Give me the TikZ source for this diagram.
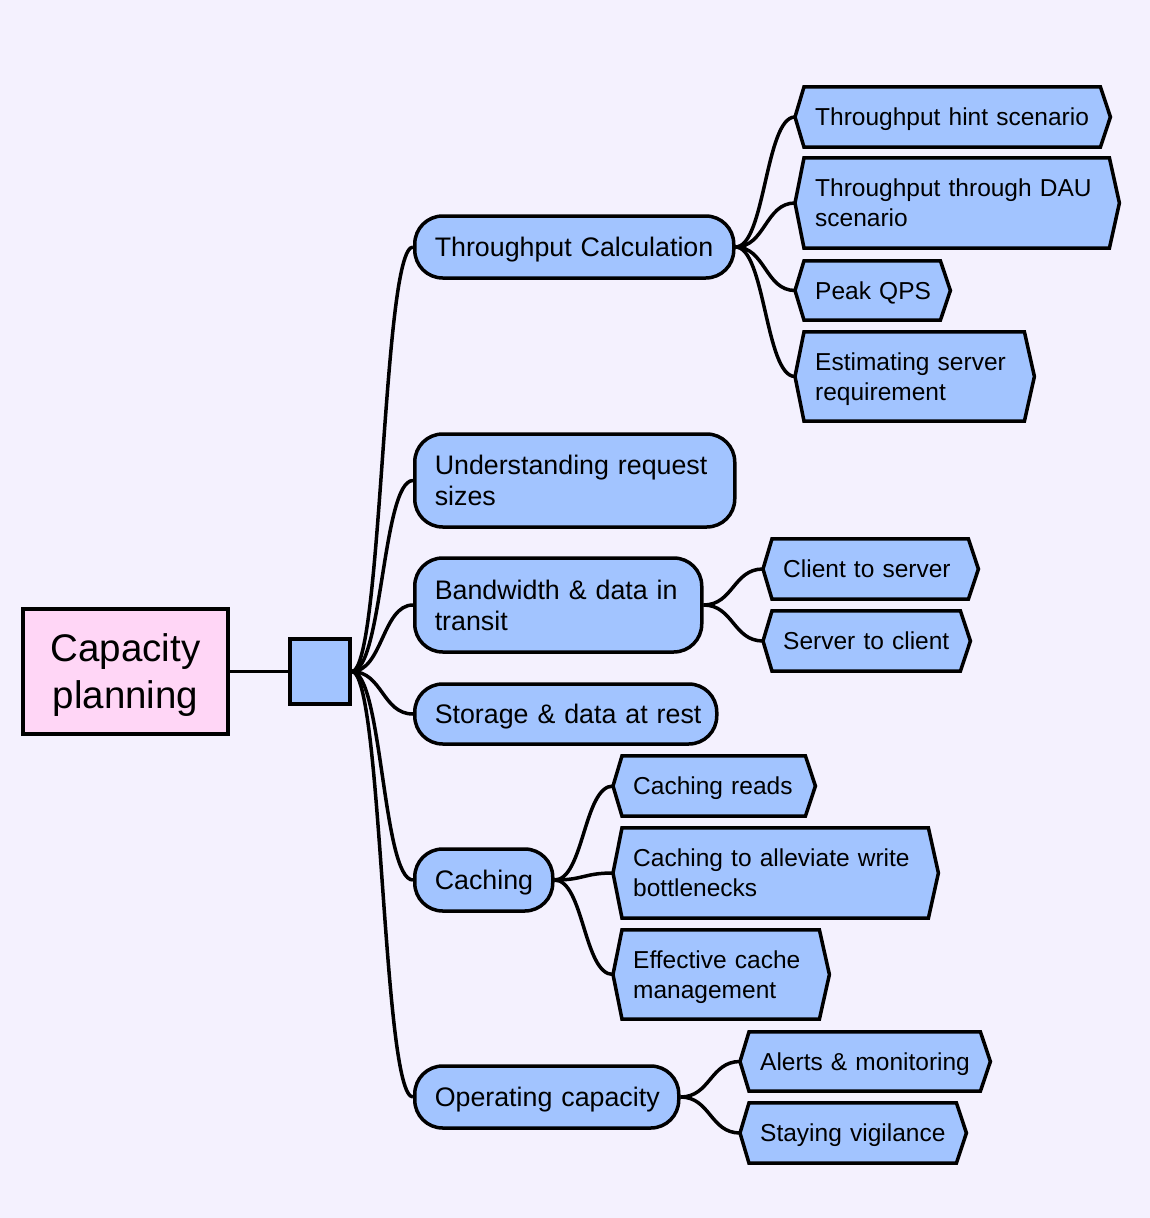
\documentclass[tikz,border=0pt]{standalone}
\usepackage{fontspec}
\setmainfont{Liberation Sans}
\usetikzlibrary{calc}
\hyphenpenalty=10000
\exhyphenpenalty=10000
\pgfdeclarelayer{bg}
\pgfdeclarelayer{edges}
\pgfdeclarelayer{shapes}
\pgfsetlayers{bg,edges,shapes,main}
\definecolor{bgc}{HTML}{F4F1FE}
\definecolor{nodeblue}{HTML}{A2C4FF}
\definecolor{rootpink}{HTML}{FFD6F6}
\tikzset{
  vfix/.style={execute at begin node={\rule{0pt}{0.97em}}, execute at end node={\rule[-0.25em]{0pt}{0.25em}}},
  lone/.style={draw, line width=3.5pt, fill=nodeblue, rounded corners=28pt, anchor=west,
    inner xsep=20pt, inner ysep=0pt, align=left, font=\fontsize{26.8}{31}\selectfont, vfix},
  ltwo/.style={anchor=west, inner xsep=20pt, inner ysep=0pt, align=left,
    font=\fontsize{24.5}{30}\selectfont, vfix},
  hexshape/.style={draw, line width=3.5pt, fill=nodeblue, line join=miter},
  edge/.style={line width=3.5pt},
}
\newcommand\hexof[1]{\draw[hexshape] (#1.west) -- ([xshift=9pt]#1.north west) -- ([xshift=-10pt]#1.north east) -- (#1.east) -- ([xshift=-10pt]#1.south east) -- ([xshift=9pt]#1.south west) -- cycle;}
\newcommand\mmlink[2]{\draw[edge] let \p1=(#1.east), \p2=(#2.west) in (\p1) .. controls ({0.5*\x1+0.5*\x2},\y1) and ({0.5*\x1+0.5*\x2},\y2) .. (\p2);}
\begin{document}
\begin{tikzpicture}[x=1pt,y=-1pt]
\begin{pgfonlayer}{bg}
\fill[bgc] (0,0) rectangle (1150,1218);
\end{pgfonlayer}
\useasboundingbox (0,0) rectangle (1150,1218);

% root and hub
\node[draw, line width=3.5pt, fill=rootpink, text width=165pt, minimum height=125pt,
  inner xsep=20pt, inner ysep=0pt, align=center, font=\fontsize{38.5}{47}\selectfont, vfix] (root) at (125.5,671.5) {Capacity\\planning};
\node[draw, line width=3.5pt, fill=nodeblue, minimum width=60pt, minimum height=65pt, inner sep=0pt] (hub) at (320,671.5) {};

% level 1
\node[lone, text width=279pt, minimum height=62pt] (tc) at (413,247) {Throughput~Calculation};
\node[lone, text width=280pt, minimum height=93pt] (ur) at (413,480.5) {Understanding~request\\sizes};
\node[lone, text width=247pt, minimum height=94pt] (bw) at (413,605) {Bandwidth~\&~data~in\\transit};
\node[lone, text width=262pt, minimum height=60pt] (st) at (413,714) {Storage~\&~data~at~rest};
\node[lone, text width=98pt, minimum height=62pt] (ca) at (413,880) {Caching};
\node[lone, text width=224pt, minimum height=62pt] (oc) at (413,1097) {Operating~capacity};

% level 2
\node[ltwo, text width=275pt, minimum height=60pt] (ths) at (795,117) {Throughput~hint~scenario};
\node[ltwo, text width=284pt, minimum height=90pt] (tdau) at (795,203) {Throughput~through~DAU\\scenario};
\node[ltwo, text width=115pt, minimum height=59pt] (pq) at (795,290.5) {Peak~QPS};
\node[ltwo, text width=199pt, minimum height=89pt] (esr) at (795,376.5) {Estimating~server\\requirement};
\node[ltwo, text width=175pt, minimum height=60pt] (cs) at (763,569) {Client~to~server};
\node[ltwo, text width=167pt, minimum height=60pt] (sc) at (763,641) {Server~to~client};
\node[ltwo, text width=162pt, minimum height=60pt] (cr) at (613,786) {Caching~reads};
\node[ltwo, text width=285pt, minimum height=90pt] (cw) at (613,873) {Caching~to~alleviate~write\\bottlenecks};
\node[ltwo, text width=176pt, minimum height=89pt] (ecm) at (613,974.5) {Effective~cache\\management};
\node[ltwo, text width=210pt, minimum height=59pt] (am) at (740,1061.5) {Alerts~\&~monitoring};
\node[ltwo, text width=186pt, minimum height=60pt] (sv) at (740,1133) {Staying~vigilance};

\begin{pgfonlayer}{shapes}
\hexof{ths}\hexof{tdau}\hexof{pq}\hexof{esr}\hexof{cs}\hexof{sc}
\hexof{cr}\hexof{cw}\hexof{ecm}\hexof{am}\hexof{sv}
\end{pgfonlayer}

\begin{pgfonlayer}{edges}
\draw[edge] (root.east) -- (hub.west);
\mmlink{hub}{tc}\mmlink{hub}{ur}\mmlink{hub}{bw}\mmlink{hub}{st}\mmlink{hub}{ca}\mmlink{hub}{oc}
\mmlink{tc}{ths}\mmlink{tc}{tdau}\mmlink{tc}{pq}\mmlink{tc}{esr}
\mmlink{bw}{cs}\mmlink{bw}{sc}
\mmlink{ca}{cr}\mmlink{ca}{cw}\mmlink{ca}{ecm}
\mmlink{oc}{am}\mmlink{oc}{sv}
\end{pgfonlayer}
\end{tikzpicture}
\end{document}
